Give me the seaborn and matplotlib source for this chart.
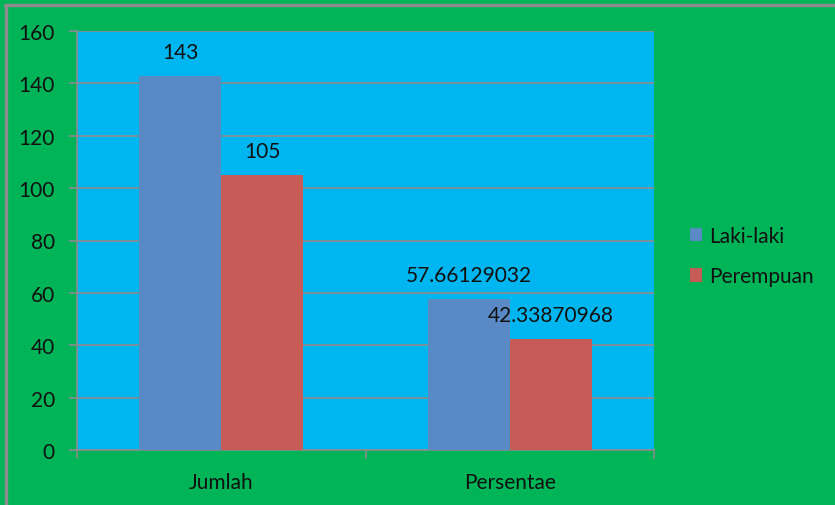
import matplotlib
matplotlib.use("Agg")
import matplotlib.pyplot as plt
from matplotlib.lines import Line2D
from matplotlib.patches import Patch
import seaborn as sns
import pandas as pd

# Chart data
categories = ["Jumlah", "Persentae"]
laki_laki = [143, 57.66129032]
perempuan = [105, 42.33870968]
value_labels_laki = ["143", "57.66129032"]
value_labels_perempuan = ["105", "42.33870968"]
series_names = ["Laki-laki", "Perempuan"]
y_ticks = [0, 20, 40, 60, 80, 100, 120, 140, 160]

BLUE = "#5A8AC6"
RED = "#C65B57"
OUTER = "#00B457"
INNER = "#00B6F0"
GRID = "#8C8C8C"
TEXT = "#111111"
FS = 15

df = pd.DataFrame({
    "kategori": categories * 2,
    "nilai": laki_laki + perempuan,
    "seri": [series_names[0]] * 2 + [series_names[1]] * 2,
})

sns.set_theme(style="white")
plt.rcParams["font.family"] = ["Lato", "DejaVu Sans"]

fig = plt.figure(figsize=(8.35, 5.06), dpi=100, facecolor=OUTER,
                 edgecolor=OUTER, linewidth=0)
ax = fig.add_axes([77 / 835, 55 / 506, 577 / 835, 419 / 506])
ax.set_facecolor(INNER)

sns.barplot(data=df, x="kategori", y="nilai", hue="seri", order=categories,
            hue_order=series_names, palette=[BLUE, RED], width=0.57,
            saturation=1, ax=ax, legend=False, zorder=3)

for p in ax.patches:
    p.set_edgecolor("none")

# value labels above each bar
offset_px = 24
for container, labels in zip(ax.containers, [value_labels_laki, value_labels_perempuan]):
    for bar, txt in zip(container, labels):
        x = bar.get_x() + bar.get_width() / 2
        y = bar.get_height()
        ax.annotate(txt, (x, y), xytext=(0, offset_px), textcoords="offset pixels",
                    ha="center", va="center", fontsize=FS, color=TEXT, zorder=5)

ax.set_xlim(-0.5, 1.5)
ax.set_ylim(0, 160)
ax.set_yticks(y_ticks)
ax.set_yticklabels([str(t) for t in y_ticks], fontsize=FS, color=TEXT)
ax.yaxis.grid(True, color=GRID, linewidth=1.2, zorder=0)
ax.set_axisbelow(True)
ax.set_xlabel("")
ax.set_ylabel("")
ax.set_xticks([0, 1])
ax.set_xticklabels(categories, fontsize=FS, color=TEXT)
ax.tick_params(axis="x", length=0, pad=16)
ax.tick_params(axis="y", length=6, width=1.2, color=GRID, pad=10, left=True)

# category separators on the x axis
for xb in [-0.5, 0.5, 1.5]:
    ax.plot([xb, xb], [0, -0.02], transform=ax.get_xaxis_transform(),
            color=GRID, linewidth=1.2, clip_on=False)

for side in ["top", "right"]:
    ax.spines[side].set_visible(False)
for side in ["left", "bottom"]:
    ax.spines[side].set_color(GRID)
    ax.spines[side].set_linewidth(1.2)

# legend
handles = [Patch(facecolor=BLUE, edgecolor="none"), Patch(facecolor=RED, edgecolor="none")]
fig.legend(handles, series_names, loc="center left", bbox_to_anchor=(671 / 835, 1 - 257 / 506),
           frameon=False, fontsize=FS, handlelength=0.6, handleheight=0.6,
           handletextpad=0.35, labelspacing=1.0, labelcolor=TEXT)

# outer frame lines on top and left
fig.add_artist(Line2D([5 / 835, 1], [1 - 6 / 506, 1 - 6 / 506], transform=fig.transFigure,
                      color="#8C8C8C", linewidth=2.5))
fig.add_artist(Line2D([5.5 / 835, 5.5 / 835], [0, 1 - 6 / 506], transform=fig.transFigure,
                      color="#8C8C8C", linewidth=2.5))

fig.savefig("out.png", dpi=100, facecolor=OUTER, edgecolor=OUTER)
